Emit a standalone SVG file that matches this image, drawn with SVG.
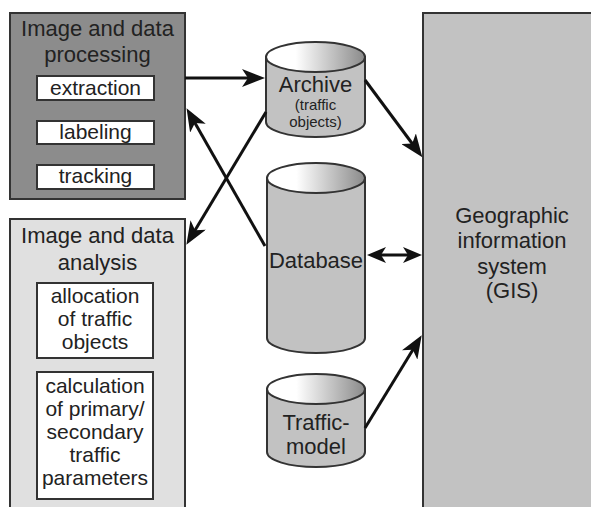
<svg xmlns="http://www.w3.org/2000/svg" width="591" height="507" viewBox="0 0 591 507">
<defs>
<style>
text{font-family:"Liberation Sans",Arial,sans-serif;fill:#222;text-anchor:middle}
.t22{font-size:22px}
.t21{font-size:21px}
.t15{font-size:15px}
.box{stroke:#333;stroke-width:2}
.inner{fill:#fff;stroke:#333;stroke-width:2}
.cylb{fill:#c2c2c2;stroke:#333;stroke-width:2}
.cylt{fill:url(#topg);stroke:#333;stroke-width:2}
.con{stroke:#111;stroke-width:3;fill:none}
</style>
<linearGradient id="topg" x1="0" y1="0" x2="1" y2="0">
<stop offset="0" stop-color="#ffffff"/>
<stop offset="0.3" stop-color="#ffffff"/>
<stop offset="1" stop-color="#8a8a8a"/>
</linearGradient>
<marker id="ah" viewBox="0 0 23 18" refX="14" refY="9" markerWidth="23" markerHeight="18" markerUnits="userSpaceOnUse" orient="auto-start-reverse">
<path d="M0,0 L23,9 L0,18 L6,9 Z" fill="#111"/>
</marker>
<marker id="ah2" viewBox="0 0 19 16" refX="11" refY="8" markerWidth="19" markerHeight="16" markerUnits="userSpaceOnUse" orient="auto-start-reverse">
<path d="M0,0 L19,8 L0,16 L5,8 Z" fill="#111"/>
</marker>
</defs>

<g id="processing">
<rect class="box" x="10" y="13" width="175" height="186" fill="#8c8c8c"/>
<text class="t22" x="97.5" y="36">Image and data</text>
<text class="t22" x="97.5" y="62">processing</text>
<rect class="inner" x="37" y="76" width="117" height="24"/>
<text class="t21" x="95.5" y="95">extraction</text>
<rect class="inner" x="37" y="121" width="117" height="23"/>
<text class="t21" x="95.5" y="139">labeling</text>
<rect class="inner" x="37" y="165" width="117" height="24"/>
<text class="t21" x="95.5" y="183">tracking</text>
</g>

<g id="analysis">
<rect class="box" x="10" y="219" width="175" height="300" fill="#e0e0e0"/>
<text class="t22" x="97.5" y="243">Image and data</text>
<text class="t22" x="97.5" y="270">analysis</text>
<rect class="inner" x="37" y="283" width="116" height="75"/>
<text class="t21" x="95" y="303">allocation</text>
<text class="t21" x="95" y="326">of traffic</text>
<text class="t21" x="95" y="349">objects</text>
<rect class="inner" x="37" y="372" width="116" height="127"/>
<text class="t21" x="95" y="393">calculation</text>
<text class="t21" x="95" y="416">of primary/</text>
<text class="t21" x="95" y="439">secondary</text>
<text class="t21" x="95" y="462">traffic</text>
<text class="t21" x="95" y="485">parameters</text>
</g>

<g id="archive">
<path class="cylb" d="M266,57 L266,122 A49.5,15 0 0 0 365,122 L365,57 Z"/>
<ellipse class="cylt" cx="315.5" cy="57" rx="49.5" ry="15"/>
<text class="t22" x="315.5" y="92">Archive</text>
<text class="t15" x="315.5" y="110">(traffic</text>
<text class="t15" x="315.5" y="127">objects)</text>
</g>

<g id="database">
<path class="cylb" d="M267,178 L267,338 A49,15 0 0 0 365,338 L365,178 Z"/>
<ellipse class="cylt" cx="316" cy="178" rx="49" ry="15"/>
<text class="t22" x="316" y="268">Database</text>
</g>

<g id="trafficmodel">
<path class="cylb" d="M267,389 L267,452 A49,15 0 0 0 365,452 L365,389 Z"/>
<ellipse class="cylt" cx="316" cy="389" rx="49" ry="15"/>
<text class="t22" x="316" y="430">Traffic-</text>
<text class="t22" x="316" y="454">model</text>
</g>

<g id="gis">
<rect class="box" x="423" y="13" width="180" height="510" fill="#c2c2c2"/>
<text class="t22" x="512" y="223">Geographic</text>
<text class="t22" x="512" y="248">information</text>
<text class="t22" x="512" y="274">system</text>
<text class="t22" x="512" y="298">(GIS)</text>
</g>

<g id="connectors">
<line class="con" x1="185" y1="78" x2="256" y2="78" marker-end="url(#ah)"/>
<line class="con" x1="265" y1="246" x2="191" y2="116" marker-end="url(#ah)"/>
<line class="con" x1="266" y1="112" x2="191" y2="237" marker-end="url(#ah)"/>
<line class="con" x1="365" y1="80" x2="417" y2="150" marker-end="url(#ah)"/>
<line class="con" x1="375" y1="255" x2="414" y2="255" marker-start="url(#ah2)" marker-end="url(#ah2)"/>
<line class="con" x1="365" y1="428" x2="417" y2="343" marker-end="url(#ah)"/>
</g>
</svg>
